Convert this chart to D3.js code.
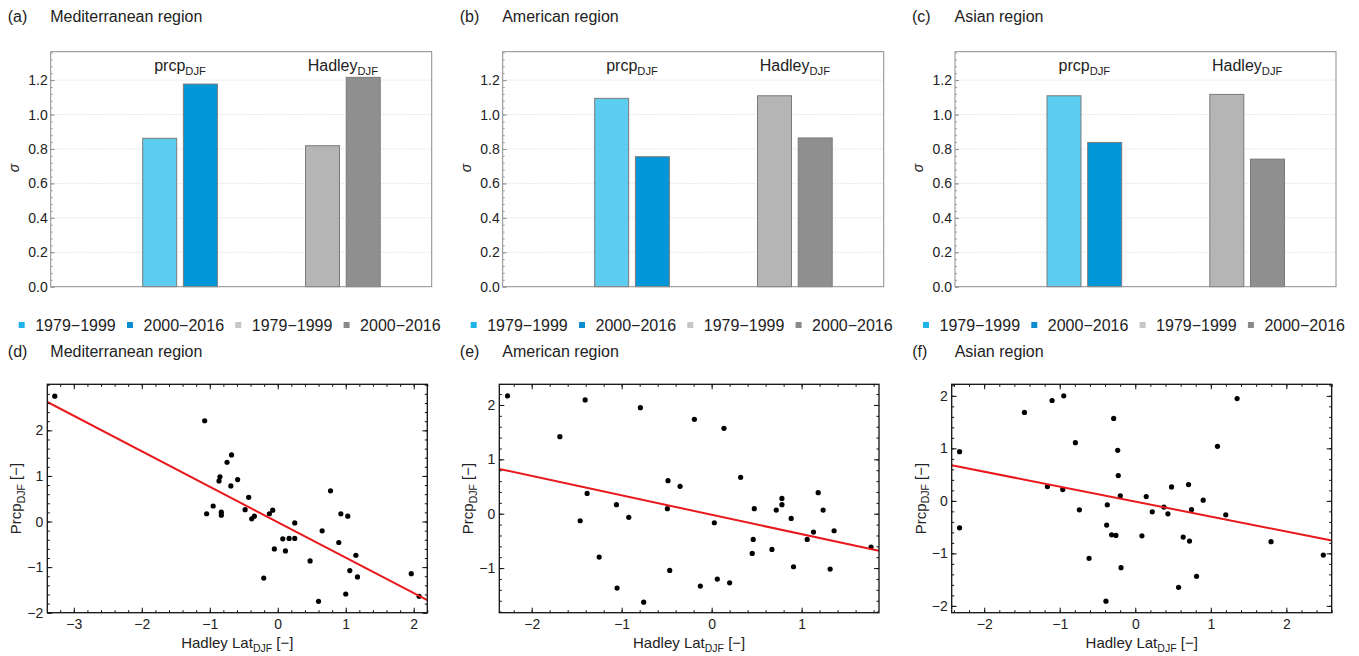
<!DOCTYPE html>
<html>
<head>
<meta charset="utf-8">
<script src="https://cdn.jsdelivr.net/npm/d3@7"></script>
<style>
  body { margin: 0; background: #ffffff; }
  text { font-family: "Liberation Sans", Arial, sans-serif; fill: #222; }
</style>
</head>
<body>
<div class="visual-data"></div>
<script>
const width = 1359;
const height = 656;

// labels
const regionNames = ["Mediterranean region", "American region", "Asian region"];
const barTags = ["(a)", "(b)", "(c)"];
const scatterTags = ["(d)", "(e)", "(f)"];
const periodLabels = ["1979\u22121999", "2000\u22122016", "1979\u22121999", "2000\u22122016"];
const groupNames = ["prcp", "Hadley"];
const sigmaTicks = [0, 0.2, 0.4, 0.6, 0.8, 1.0, 1.2];

// sigma per slot: prcp 79-99, prcp 00-16, empty, empty, Hadley 79-99, Hadley 00-16
const sigmaMed = [0.862, 1.177, 0, 0, 0.819, 1.216];
const sigmaAme = [1.094, 0.755, 0, 0, 1.109, 0.864];
const sigmaAsi = [1.109, 0.838, 0, 0, 1.117, 0.741];

// standardised anomalies, one point per DJF 1979-2016
const hadleyMed = [-3.28, -1.075, -0.68, -0.746, -0.85, -0.864, -0.59, -0.69, -0.427, -0.95,
  -1.046, -0.83, -0.83, -0.48, -0.344, -0.383, -0.123, -0.074, 0.25, 0.074,
  0.167, 0.25, -0.05, 0.113, -0.206, 0.476, 0.653, 0.776, 0.898, 0.928,
  1.03, 0.6, 1.0, 1.06, 1.149, 1.173, 1.964, 2.08];
const prcpMed = [2.75, 2.21, 1.46, 1.30, 0.98, 0.89, 0.92, 0.78, 0.53, 0.34,
  0.17, 0.205, 0.14, 0.26, 0.117, 0.06, 0.17, 0.25, -0.03, -0.38,
  -0.37, -0.37, -0.60, -0.645, -1.24, -0.865, -0.205, 0.674, -0.46, 0.168,
  0.117, -1.75, -1.59, -1.077, -0.74, -1.216, -1.143, -1.64];

const hadleyAme = [-2.268, -1.406, -1.687, -0.792, -0.192, 0.137, 0.322, -0.485, -0.351, -1.384,
  -1.058, -0.492, -0.921, -1.461, 0.030, -1.250, -1.051, -0.755, -0.466, -0.126,
  0.063, 0.200, 0.474, 0.462, 0.451, 0.670, 0.718, 0.781, 0.781, 0.884,
  0.910, 1.062, 1.132, 1.184, 1.239, 1.361, 1.317, 1.772];
const prcpAme = [2.166, 2.092, 1.417, 1.951, 1.736, 1.571, 0.669, 0.607, 0.503, 0.374,
  0.166, 0.092, -0.067, -0.129, -0.166, -0.798, -1.368, -1.626, -1.043, -1.331,
  -1.202, -1.270, 0.092, -0.472, -0.730, -0.656, 0.067, 0.282, 0.166, -0.086,
  -0.975, -0.472, -0.337, 0.387, 0.067, -0.313, -1.018, -0.613];

const hadleyAsi = [-2.326, -2.326, -1.467, -1.101, -0.947, -0.793, -1.163, -0.960, -0.740, -0.612,
  -0.286, -0.233, -0.225, -0.198, -0.370, -0.379, -0.313, -0.256, -0.189, -0.388,
  0.088, 0.145, 0.225, 0.379, 0.432, 0.480, 0.634, 0.573, 0.705, 0.744,
  0.718, 0.811, 0.899, 1.088, 1.198, 1.348, 1.797, 2.489];
const prcpAsi = [0.937, -0.513, 1.684, 1.911, 2.0, 1.108, 0.272, 0.215, -0.171, -1.095,
  1.570, 0.962, 0.481, 0.095, -0.076, -0.462, -0.646, -0.658, -1.272, -1.911,
  -0.665, 0.082, -0.209, -0.120, -0.247, 0.266, -0.690, -1.646, 0.310, -0.165,
  -0.766, -1.437, 0.013, 1.038, -0.266, 1.949, -0.778, -1.032];

// linear fits
const fitSlope = [-0.778, -0.357, -0.285];
const fitIntercept = [-0.015, -0.019, -0.014];

// axis ranges and ticks of the scatter panels
const xDomains = [[-3.39, 2.2], [-2.36, 1.86], [-2.43, 2.6]];
const yDomains = [[-2.0, 3.01], [-1.82, 2.38], [-2.13, 2.22]];
const xTickSets = [[-3, -2, -1, 0, 1, 2], [-2, -1, 0, 1], [-2, -1, 0, 1, 2]];
const yTickSets = [[-2, -1, 0, 1, 2], [-1, 0, 1, 2], [-2, -1, 0, 1, 2]];

const sigmaSets = [sigmaMed, sigmaAme, sigmaAsi];
const hadleySets = [hadleyMed, hadleyAme, hadleyAsi];
const prcpSets = [prcpMed, prcpAme, prcpAsi];

const barFills = ["#5ccdef", "#0096d8", "#ffffff", "#ffffff", "#b5b5b5", "#8f8f8f"];
const legendFills = ["#1fb4e8", "#0a8dd0", "#c6c6c6", "#8a8a8a"];
const font = "Liberation Sans, Arial, sans-serif";

const svg = d3.select(".visual-data")
  .append("svg")
  .attr("width", width)
  .attr("height", height)
  .style("background-color", "#FFFFFF");

function addSub(sel, main, sub, rest, size) {
  sel.append("tspan").text(main);
  sel.append("tspan").attr("font-size", size * 0.7).attr("dy", size * 0.25).text(sub);
  if (rest) sel.append("tspan").attr("dy", -size * 0.25).text(rest);
}

function minorRange(d0, d1, step) {
  return d3.range(Math.ceil(d0 / step), Math.floor(d1 / step) + 1).map(k => +(k * step).toFixed(3));
}

//Bar panels
const barLeft = [50.7, 502.7, 955];
const barW = 381, barTop = 51.7, barBottom = 286.7;

sigmaSets.forEach((vals, p) => {
  const L = barLeft[p];
  const g = svg.append("g");
  const x = d3.scaleLinear().domain([-2.26, 7.1]).range([L, L + barW]);
  const y = d3.scaleLinear().domain([0, 1.365]).range([barBottom, barTop]);

  // title
  g.append("text").attr("x", L - 43).attr("y", 22).attr("font-size", 16).text(barTags[p]);
  g.append("text").attr("x", L - 0.5).attr("y", 22).attr("font-size", 16).text(regionNames[p]);

  // grid
  g.selectAll(".grid").data(sigmaTicks.filter(t => t > 0)).enter()
    .append("line")
    .attr("x1", L).attr("x2", L + barW)
    .attr("y1", d => y(d)).attr("y2", d => y(d))
    .attr("stroke", "#d8d8d8").attr("stroke-dasharray", "1,1.5");

  // bars
  g.selectAll(".bar").data(vals).enter()
    .append("rect")
    .attr("x", (d, i) => x(i))
    .attr("width", (d, i) => x(i + 0.835) - x(i))
    .attr("y", d => y(d))
    .attr("height", d => y(0) - y(d))
    .attr("fill", (d, i) => barFills[i])
    .attr("stroke", (d) => d > 0 ? "#7a7a7a" : "#333")
    .attr("stroke-width", 1);

  // group labels
  [[0, 1], [4, 5]].forEach((pair, k) => {
    const cx = (x(pair[0]) + x(pair[1] + 0.835)) / 2;
    const t = g.append("text").attr("x", cx).attr("y", 71)
      .attr("text-anchor", "middle").attr("font-size", 16);
    addSub(t, groupNames[k], "DJF", null, 16);
  });

  // frame
  g.append("rect").attr("x", L).attr("y", barTop).attr("width", barW).attr("height", barBottom - barTop)
    .attr("fill", "none").attr("stroke", "#8c8c8c").attr("stroke-width", 1);

  // y axis
  const ax = g.append("g").attr("transform", "translate(" + L + ",0)")
    .call(d3.axisLeft(y).tickValues(sigmaTicks).tickFormat(d3.format(".1f")).tickSize(-4).tickPadding(3));
  ax.select(".domain").remove();
  ax.selectAll("line").attr("stroke", "#8c8c8c");
  ax.selectAll("text").attr("font-size", 14).attr("font-family", font).attr("fill", "#222");
  const mn = g.append("g").attr("transform", "translate(" + L + ",0)")
    .call(d3.axisLeft(y).tickValues(minorRange(0, 1.36, 0.04)).tickFormat("").tickSize(-2));
  mn.select(".domain").remove();
  mn.selectAll("line").attr("stroke", "#9a9a9a");

  // sigma label
  g.append("text").attr("transform", "translate(" + (L - 32) + ",168) rotate(-90)")
    .attr("text-anchor", "middle").attr("font-size", 14).attr("font-style", "italic").text("\u03c3");

  // legend
  periodLabels.forEach((lab, i) => {
    const lx = L - 29 + i * 108.3;
    g.append("rect").attr("x", lx - 3).attr("y", 322).attr("width", 6).attr("height", 6)
      .attr("fill", legendFills[i]);
    g.append("text").attr("x", lx + 13.5).attr("y", 331).attr("font-size", 16).text(lab);
  });
});

//Scatter panels
const scLeft = [47.3, 499.3, 951.7];
const scRight = [427.3, 879, 1331.7];
const scTop = 384.3, scBottom = 612.7;

hadleySets.forEach((hx, p) => {
  const L = scLeft[p], R = scRight[p];
  const g = svg.append("g");
  const x = d3.scaleLinear().domain(xDomains[p]).range([L, R]);
  const y = d3.scaleLinear().domain(yDomains[p]).range([scBottom, scTop]);

  g.append("text").attr("x", L - 39.5).attr("y", 357).attr("font-size", 16).text(scatterTags[p]);
  g.append("text").attr("x", L + 3).attr("y", 357).attr("font-size", 16).text(regionNames[p]);

  const clipId = "clip" + p;
  g.append("clipPath").attr("id", clipId).append("rect")
    .attr("x", L).attr("y", scTop).attr("width", R - L).attr("height", scBottom - scTop);

  // points
  g.selectAll(".pt").data(hx).enter()
    .append("circle")
    .attr("cx", d => x(d))
    .attr("cy", (d, i) => y(prcpSets[p][i]))
    .attr("r", 2.6)
    .attr("fill", "#000");

  // fit
  const xs = xDomains[p];
  g.append("line")
    .attr("clip-path", "url(#" + clipId + ")")
    .attr("x1", x(xs[0])).attr("y1", y(fitSlope[p] * xs[0] + fitIntercept[p]))
    .attr("x2", x(xs[1])).attr("y2", y(fitSlope[p] * xs[1] + fitIntercept[p]))
    .attr("stroke", "#e8181c").attr("stroke-width", 2);

  // axes with inward ticks on all sides
  const xMinor = minorRange(xDomains[p][0], xDomains[p][1], 0.2);
  const yMinor = minorRange(yDomains[p][0], yDomains[p][1], 0.2);
  const styleAxis = (a) => {
    a.select(".domain").remove();
    a.selectAll("line").attr("stroke", "#111").attr("stroke-width", 1);
    a.selectAll("text").attr("font-size", 14).attr("font-family", font).attr("fill", "#222");
  };
  styleAxis(g.append("g").attr("transform", "translate(0," + scBottom + ")")
    .call(d3.axisBottom(x).tickValues(xTickSets[p]).tickSize(-5).tickPadding(6).tickFormat(d3.format("d"))));
  styleAxis(g.append("g").attr("transform", "translate(0," + scBottom + ")")
    .call(d3.axisBottom(x).tickValues(xMinor).tickSize(-2.5).tickFormat("")));
  styleAxis(g.append("g").attr("transform", "translate(0," + scTop + ")")
    .call(d3.axisTop(x).tickValues(xTickSets[p]).tickSize(-5).tickFormat("")));
  styleAxis(g.append("g").attr("transform", "translate(0," + scTop + ")")
    .call(d3.axisTop(x).tickValues(xMinor).tickSize(-2.5).tickFormat("")));
  styleAxis(g.append("g").attr("transform", "translate(" + L + ",0)")
    .call(d3.axisLeft(y).tickValues(yTickSets[p]).tickSize(-5).tickPadding(4).tickFormat(d3.format("d"))));
  styleAxis(g.append("g").attr("transform", "translate(" + L + ",0)")
    .call(d3.axisLeft(y).tickValues(yMinor).tickSize(-2.5).tickFormat("")));
  styleAxis(g.append("g").attr("transform", "translate(" + R + ",0)")
    .call(d3.axisRight(y).tickValues(yTickSets[p]).tickSize(-5).tickFormat("")));
  styleAxis(g.append("g").attr("transform", "translate(" + R + ",0)")
    .call(d3.axisRight(y).tickValues(yMinor).tickSize(-2.5).tickFormat("")));

  // frame
  g.append("rect").attr("x", L).attr("y", scTop).attr("width", R - L).attr("height", scBottom - scTop)
    .attr("fill", "none").attr("stroke", "#111").attr("stroke-width", 1.3);

  // axis titles
  const xt = g.append("text").attr("x", (L + R) / 2).attr("y", 648)
    .attr("text-anchor", "middle").attr("font-size", 15);
  addSub(xt, "Hadley Lat", "DJF", " [\u2212]", 15);
  const yt = g.append("text")
    .attr("transform", "translate(" + (L - 26) + "," + ((scTop + scBottom) / 2) + ") rotate(-90)")
    .attr("text-anchor", "middle").attr("font-size", 15);
  addSub(yt, "Prcp", "DJF", " [\u2212]", 15);
});
</script>
</body>
</html>
